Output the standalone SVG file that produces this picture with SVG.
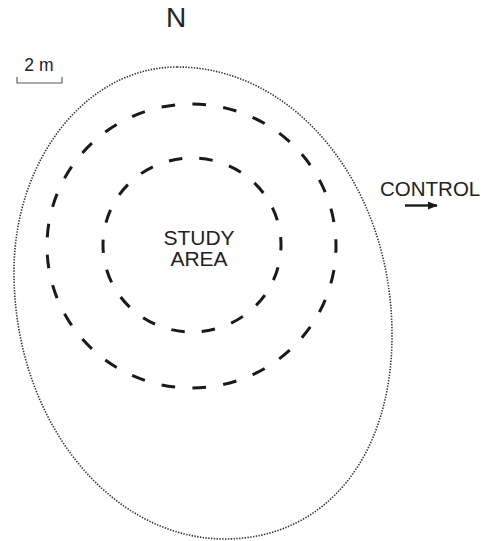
<svg xmlns="http://www.w3.org/2000/svg" width="488" height="541" viewBox="0 0 488 541">
<defs>
<style>
text{font-family:"Liberation Sans",Arial,sans-serif;fill:#222}
.ring{fill:none;stroke:#1a1a1a;stroke-width:3;stroke-dasharray:4.4 5.6}
.outline{fill:none;stroke:#333;stroke-width:1.6;stroke-dasharray:1.4 1.4}
.bar{fill:none;stroke:#555;stroke-width:1.1}
</style>
<marker id="ah" viewBox="0 0 10 8" refX="9" refY="4" markerWidth="11" markerHeight="8" markerUnits="userSpaceOnUse" orient="auto">
<path d="M0,0 L10,4 L0,8 Z" fill="#1a1a1a"/>
</marker>
</defs>
<rect width="488" height="541" fill="#fff"/>
<g id="north"><text x="176" y="27" font-size="28" text-anchor="middle">N</text></g>
<g id="scale">
<text x="24.3" y="71" font-size="17.5">2 m</text>
<path class="bar" d="M17,77 V83 H62 V77"/>
</g>
<g id="outline"><path class="outline" d="M177,67 C296,67 392,187 392,335 C392,457 325,539 225,539 C110,539 14,420 14,272 C14,159 87,67 177,67 Z"/></g>
<g id="outer-ring"><ellipse class="ring" cx="191.5" cy="246" rx="144.5" ry="142" pathLength="290" stroke-dashoffset="2.2"/></g>
<g id="inner-ring"><ellipse class="ring" cx="192" cy="245" rx="89" ry="87" pathLength="180" stroke-dashoffset="2.6"/></g>
<g id="study-area">
<text x="199" y="245" font-size="21" text-anchor="middle">STUDY</text>
<text x="199" y="266" font-size="21" text-anchor="middle">AREA</text>
</g>
<g id="control"><text x="380" y="196" font-size="20.5">CONTROL</text></g>
<g id="connectors"><line x1="405" y1="205.5" x2="437" y2="205.5" stroke="#1a1a1a" stroke-width="2.4" marker-end="url(#ah)"/></g>
</svg>
